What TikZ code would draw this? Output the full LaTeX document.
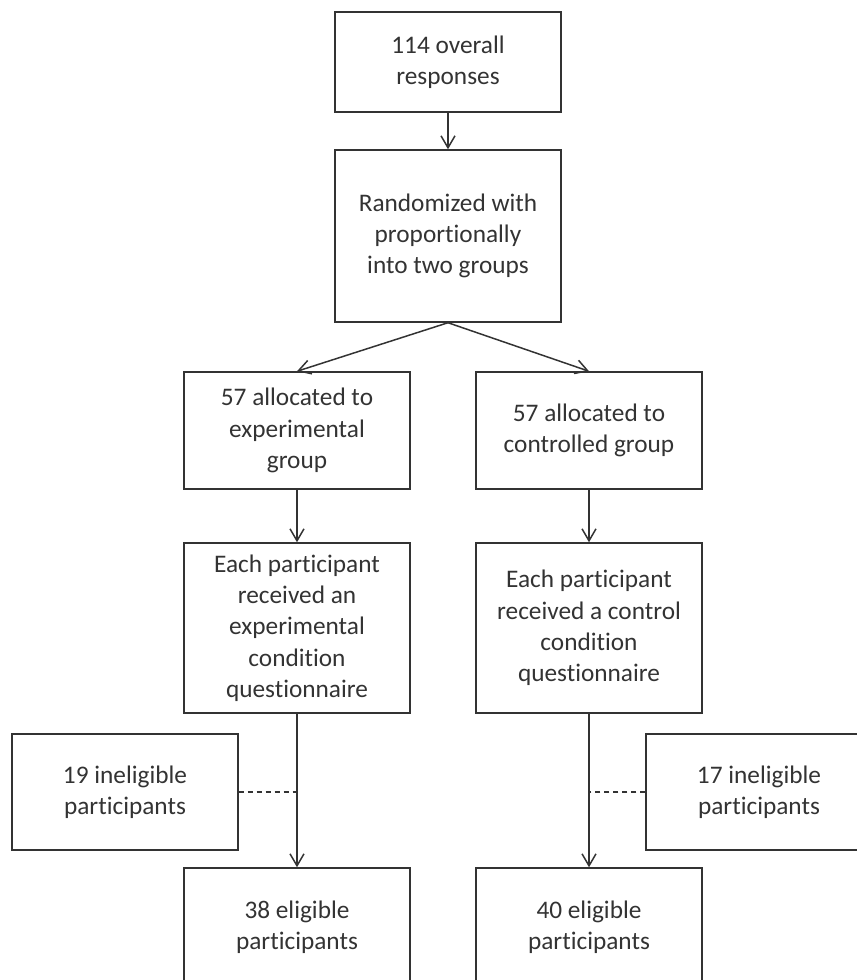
\documentclass[tikz,border=0pt]{standalone}
\usepackage{fontspec}
\setmainfont{Carlito}[Ligatures=NoCommon]
\usetikzlibrary{arrows.meta}

\begin{document}
\begin{tikzpicture}[
	font=\fontsize{14.4}{17.8}\selectfont,
	x=0.02cm, y=-0.02cm,
	box/.style={draw=black!80, line width=0.85pt, align=center, text=black!80,
		minimum width=4.52cm, inner sep=0pt},
	arr/.style={-{Straight Barb[length=2.4mm,width=2.8mm]}, draw=black!80, line width=0.85pt},
	dsh/.style={draw=black!80, line width=0.7pt, dash pattern=on 1mm off 0.8mm},
	]
\useasboundingbox (0,0) rectangle (856,980);

\node [box, minimum height=2cm] (resp) at (448,62) {114 overall\\responses};
\node [box, minimum height=3.44cm] (rand) at (448,236) {Randomized with\\proportionally\\into two groups};

\node [box, minimum height=2.34cm] (allocexp) at (297,430.5) {57 allocated to\\experimental\\group};
\node [box, minimum height=2.34cm] (allocctl) at (589,430.5) {57 allocated to\\controlled group};

\node [box, minimum height=3.4cm] (qexp) at (297,628) {Each participant\\received an\\experimental\\condition\\questionnaire};
\node [box, minimum height=3.4cm] (qctl) at (589,628) {Each participant\\received a control\\condition\\questionnaire};

\node [box, minimum height=2.32cm] (inelexp) at (125,792) {19 ineligible\\participants};
\node [box, minimum height=2.32cm] (inelctl) at (759,792) {17 ineligible\\participants};

\node [box, minimum height=2.36cm] (eligexp) at (297,927) {38 eligible\\participants};
\node [box, minimum height=2.36cm] (eligctl) at (589,927) {40 eligible\\participants};

\draw [arr] (resp) -- (rand);
\draw [arr] (rand.south) -- (allocexp.north);
\draw [arr] (rand.south) -- (allocctl.north);
\draw [arr] (allocexp) -- (qexp);
\draw [arr] (allocctl) -- (qctl);
\draw [arr] (qexp) -- (eligexp);
\draw [arr] (qctl) -- (eligctl);

\draw [dsh] (inelexp.east) -- (inelexp.east -| qexp.south);
\draw [dsh] (inelctl.west) -- (inelctl.west -| qctl.south);
\end{tikzpicture}
\end{document}
